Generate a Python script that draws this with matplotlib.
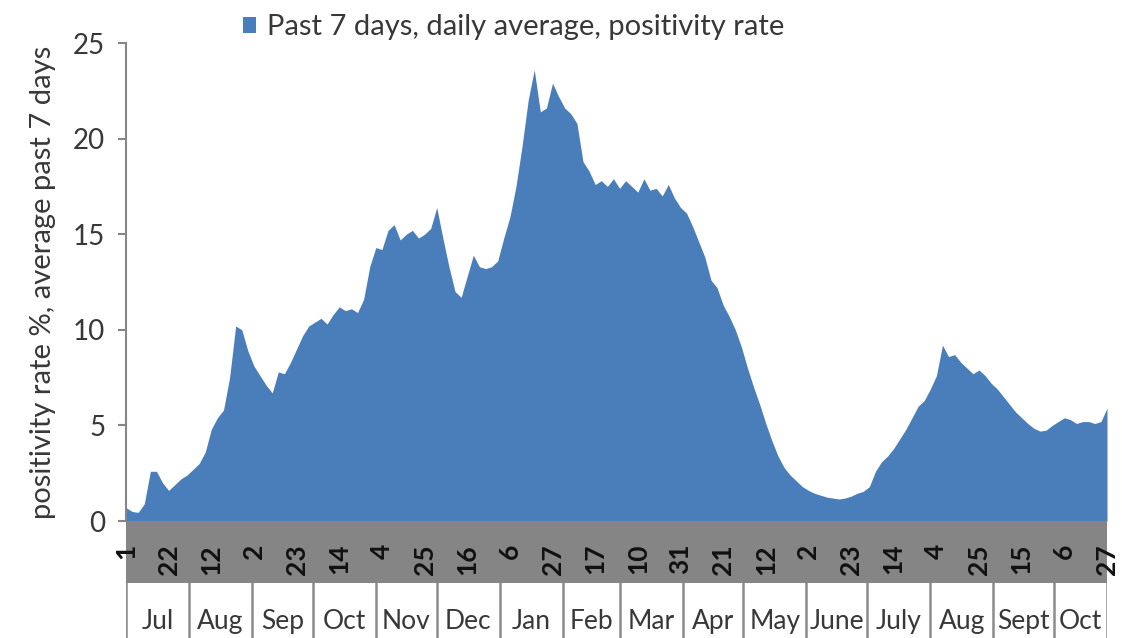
import matplotlib.pyplot as plt
import numpy as np
import pandas as pd

plt.rcParams['font.family'] = ['Lato', 'DejaVu Sans']

# 7-day average positivity rate, read every 3 days from 1 Jul 2020 to 27 Oct 2021
start = "2020-07-01"
rate = [
    0.7, 0.5, 0.45, 0.9, 2.6, 2.6, 2.0, 1.6, 1.9, 2.2,
    2.4, 2.7, 3.0, 3.6, 4.8, 5.4, 5.8, 7.5, 10.2, 10.0,
    8.9, 8.1, 7.6, 7.1, 6.7, 7.8, 7.7, 8.3, 9.0, 9.7,
    10.2, 10.4, 10.6, 10.3, 10.8, 11.2, 11.0, 11.1, 10.9, 11.6,
    13.3, 14.3, 14.2, 15.2, 15.5, 14.7, 15.0, 15.2, 14.8, 15.0,
    15.3, 16.4, 14.8, 13.3, 12.0, 11.7, 12.8, 13.9, 13.3, 13.2,
    13.3, 13.6, 14.8, 15.9, 17.5, 19.6, 22.0, 23.6, 21.4, 21.6,
    22.9, 22.2, 21.6, 21.3, 20.8, 18.8, 18.3, 17.6, 17.8, 17.5,
    17.9, 17.4, 17.8, 17.5, 17.2, 17.9, 17.3, 17.4, 17.0, 17.6,
    16.9, 16.4, 16.1, 15.4, 14.6, 13.8, 12.6, 12.2, 11.3, 10.7,
    10.0, 9.1, 8.0, 7.0, 6.1, 5.1, 4.2, 3.4, 2.8, 2.4,
    2.1, 1.8, 1.6, 1.45, 1.35, 1.25, 1.2, 1.15, 1.2, 1.3,
    1.45, 1.55, 1.8, 2.6, 3.1, 3.4, 3.8, 4.3, 4.8, 5.4,
    6.0, 6.3, 6.9, 7.6, 9.2, 8.6, 8.7, 8.3, 8.0, 7.7,
    7.9, 7.6, 7.2, 6.9, 6.5, 6.1, 5.7, 5.4, 5.1, 4.85,
    4.7, 4.75, 5.0, 5.2, 5.4, 5.3, 5.1, 5.2, 5.2, 5.1,
    5.2, 5.9,
]
tick_labels = ["1", "22", "12", "2", "23", "14", "4", "25", "16", "6", "27", "17",
               "10", "31", "21", "12", "2", "23", "14", "4", "25", "15", "6", "27"]
months = ["Jul", "Aug", "Sep", "Oct", "Nov", "Dec", "Jan", "Feb", "Mar", "Apr",
          "May", "June", "July", "Aug", "Sept", "Oct"]
month_days = [31, 31, 30, 31, 30, 31, 31, 28, 31, 30, 31, 30, 31, 31, 30, 27]

dates = pd.date_range(start, periods=len(rate), freq="3D")
day = (dates - dates[0]).days.to_numpy()
tick_dates = pd.date_range(start, periods=len(tick_labels), freq="21D")
tick_pos = (tick_dates - dates[0]).days.to_numpy()

blue = "#4a7ebb"
txt = "#383838"
W, H = 1122, 638
x0, x1 = 126, 1107
y_top, y_zero, y_band = 43, 521, 583


def box(l, t, r, b):
    return [l / W, 1 - b / H, (r - l) / W, (b - t) / H]


fig = plt.figure(figsize=(W / 100, H / 100), dpi=100)

ax = fig.add_axes(box(x0, y_top, x1, y_zero))
ax.fill_between(day, rate, color=blue, lw=0, label="Past 7 days, daily average, positivity rate")
ax.set_xlim(0, day[-1])
ax.set_ylim(0, 25)
ax.set_yticks(range(0, 26, 5))
ax.set_xticks([])
for s in ["top", "right", "bottom"]:
    ax.spines[s].set_visible(False)
ax.spines["left"].set_color("#868686")
ax.spines["left"].set_linewidth(1.5)
ax.tick_params(axis="y", length=6, width=1.5, color="#868686", labelsize=20, labelcolor=txt, pad=9)
ax.set_ylabel("positivity rate %, average past 7 days", fontsize=21, color=txt, labelpad=12)
ax.legend(loc="upper left", bbox_to_anchor=(0.092, 1.115), frameon=False, fontsize=21,
          handlelength=0.45, handleheight=0.45, handletextpad=0.4, labelcolor=txt)

# grey band with day numbers
band = fig.add_axes(box(x0, y_zero, x1, y_band), facecolor="#858585")
band.set_xlim(0, day[-1])
band.set_ylim(0, 1)
band.axis("off")
band.add_patch(plt.Rectangle((0, 0), day[-1], 1, color="#858585", lw=0))
for p, lab in zip(tick_pos, tick_labels):
    band.text(p, 0.63, lab, rotation=90, ha="center", va="top", fontsize=19,
              fontweight="bold", color="#111111")

# month boxes
mon = fig.add_axes(box(x0, y_band, x1, H))
mon.set_xlim(0, day[-1])
mon.set_ylim(0, 1)
mon.axis("off")
edges = np.concatenate([[0], np.cumsum(month_days)])
edges = np.minimum(edges, day[-1])
for e in edges:
    mon.axvline(e, color="#8c8c8c", lw=1.8)
for a, b, m in zip(edges[:-1], edges[1:], months):
    mon.text((a + b) / 2, 0.3, m, ha="center", va="center", fontsize=19, color=txt)

fig.savefig("out.png", dpi=100)
